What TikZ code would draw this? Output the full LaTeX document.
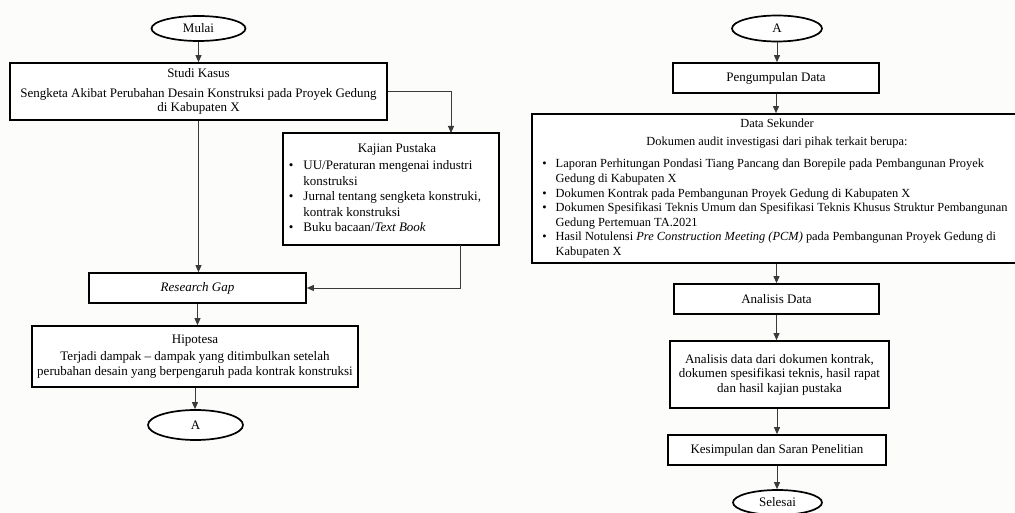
\documentclass[tikz,border=0pt]{standalone}
\usepackage{fontspec}
\setmainfont{Liberation Serif}
\usetikzlibrary{arrows.meta,shapes.geometric}
\definecolor{bg}{HTML}{FCFCFA}
\definecolor{lncol}{HTML}{3A3A3A}
\newcommand{\fs}{\fontsize{13}{14.6}\selectfont}
\newcommand{\fsds}{\fontsize{12.4}{14.6}\selectfont}
\begin{document}
\begin{tikzpicture}[x=1pt,y=-1pt,
 box/.style={draw=black, line width=1.7pt, fill=white, inner sep=0pt, align=center, font=\fs},
 term/.style={ellipse, draw=black, line width=1.7pt, fill=white, inner sep=0pt, font=\fs},
 arr/.style={draw=lncol, line width=0.9pt, -{Triangle[length=7pt,width=6pt]}}]
\fill[bg] (0,0) rectangle (1015,513);
\useasboundingbox (0,0) rectangle (1015,513);

% left column
\node[term, minimum width=94pt, minimum height=25pt] (mulai) at (198.5,28.5) {Mulai};
\node[box, minimum width=377pt, minimum height=57pt] (studi) at (198.5,91.5)
 {Studi Kasus\\[5pt]Sengketa Akibat Perubahan Desain Konstruksi pada Proyek Gedung\\di Kabupaten X};
\node[box, minimum width=216pt, minimum height=112pt] (kajian) at (391,189)
 {\fontsize{13}{15.5}\selectfont\begin{tabular}{@{}l@{\hspace{10pt}}l@{\hspace{12pt}}}
  \multicolumn{2}{c}{\hspace{12pt}Kajian Pustaka}\\[2pt]
  \textbullet & UU/Peraturan mengenai industri\\
   & konstruksi\\
  \textbullet & Jurnal tentang sengketa konstruki,\\
   & kontrak konstruksi\\
  \textbullet & Buku bacaan/\textit{Text Book}
 \end{tabular}};
\node[box, minimum width=217pt, minimum height=30pt] (gap) at (197.5,288) {\textit{Research Gap}};
\node[box, minimum width=326pt, minimum height=61pt] (hipo) at (195,356.5)
 {Hipotesa\\[3pt]Terjadi dampak -- dampak yang ditimbulkan setelah\\perubahan desain yang berpengaruh pada kontrak konstruksi};
\node[term, minimum width=95pt, minimum height=30pt] (a1) at (195.5,425) {A};

\coordinate (kin) at (451,133);
\coordinate (kout) at (460,245);
\draw[arr] (mulai.south) -- (mulai.south |- studi.north);
\draw[arr] (studi.east) -- (studi.east -| kin) -- (kin);
\draw[arr] (studi.south) -- (studi.south |- gap.north);
\draw[arr] (kout) |- (gap.east);
\draw[arr] (gap.south) -- (gap.south |- hipo.north);
\draw[arr] (hipo.south) -- (hipo.south |- a1.north);

% right column
\node[term, minimum width=90pt, minimum height=26pt] (a2) at (777,28.5) {A};
\node[box, minimum width=206pt, minimum height=30pt] (peng) at (776,78) {Pengumpulan Data};
\node[box, minimum width=486pt, minimum height=149pt, font=\fsds] (ds) at (775,188.5)
 {\begin{tabular}{@{}l@{\hspace{9pt}}l@{}}
  \multicolumn{2}{c}{\hspace{4pt}Data Sekunder}\\[3.4pt]
  \multicolumn{2}{c}{\hspace{4pt}Dokumen audit investigasi dari pihak terkait berupa:}\\[8pt]
  \textbullet & Laporan Perhitungan Pondasi Tiang Pancang dan Borepile pada Pembangunan Proyek\\
   & Gedung di Kabupaten X\\
  \textbullet & Dokumen Kontrak pada Pembangunan Proyek Gedung di Kabupaten X\\
  \textbullet & Dokumen Spesifikasi Teknis Umum dan Spesifikasi Teknis Khusus Struktur Pembangunan\\
   & Gedung Pertemuan TA.2021\\
  \textbullet & Hasil Notulensi \textit{Pre Construction Meeting (PCM)} pada Pembangunan Proyek Gedung di\\
   & Kabupaten X
 \end{tabular}};
\node[box, minimum width=205pt, minimum height=30pt] (ad) at (776.5,299) {Analisis Data};
\node[box, minimum width=219pt, minimum height=67pt] (an) at (779.5,374.5)
 {Analisis data dari dokumen kontrak,\\dokumen spesifikasi teknis, hasil rapat\\dan hasil kajian pustaka};
\node[box, minimum width=218pt, minimum height=30pt] (kes) at (777,450) {Kesimpulan dan Saran Penelitian};
\node[term, minimum width=89pt, minimum height=25pt] (sel) at (777.5,502.5) {Selesai};

\draw[arr] (a2.south) -- (a2.south |- peng.north);
\draw[arr] (peng.south) -- (peng.south |- ds.north);
\draw[arr] (ds.south -| ad.north) -- (ad.north);
\draw[arr] (ad.south) -- (ad.south |- an.north);
\draw[arr] (an.south -| kes.north) -- (kes.north);
\draw[arr] (kes.south) -- (kes.south |- sel.north);
\end{tikzpicture}
\end{document}
